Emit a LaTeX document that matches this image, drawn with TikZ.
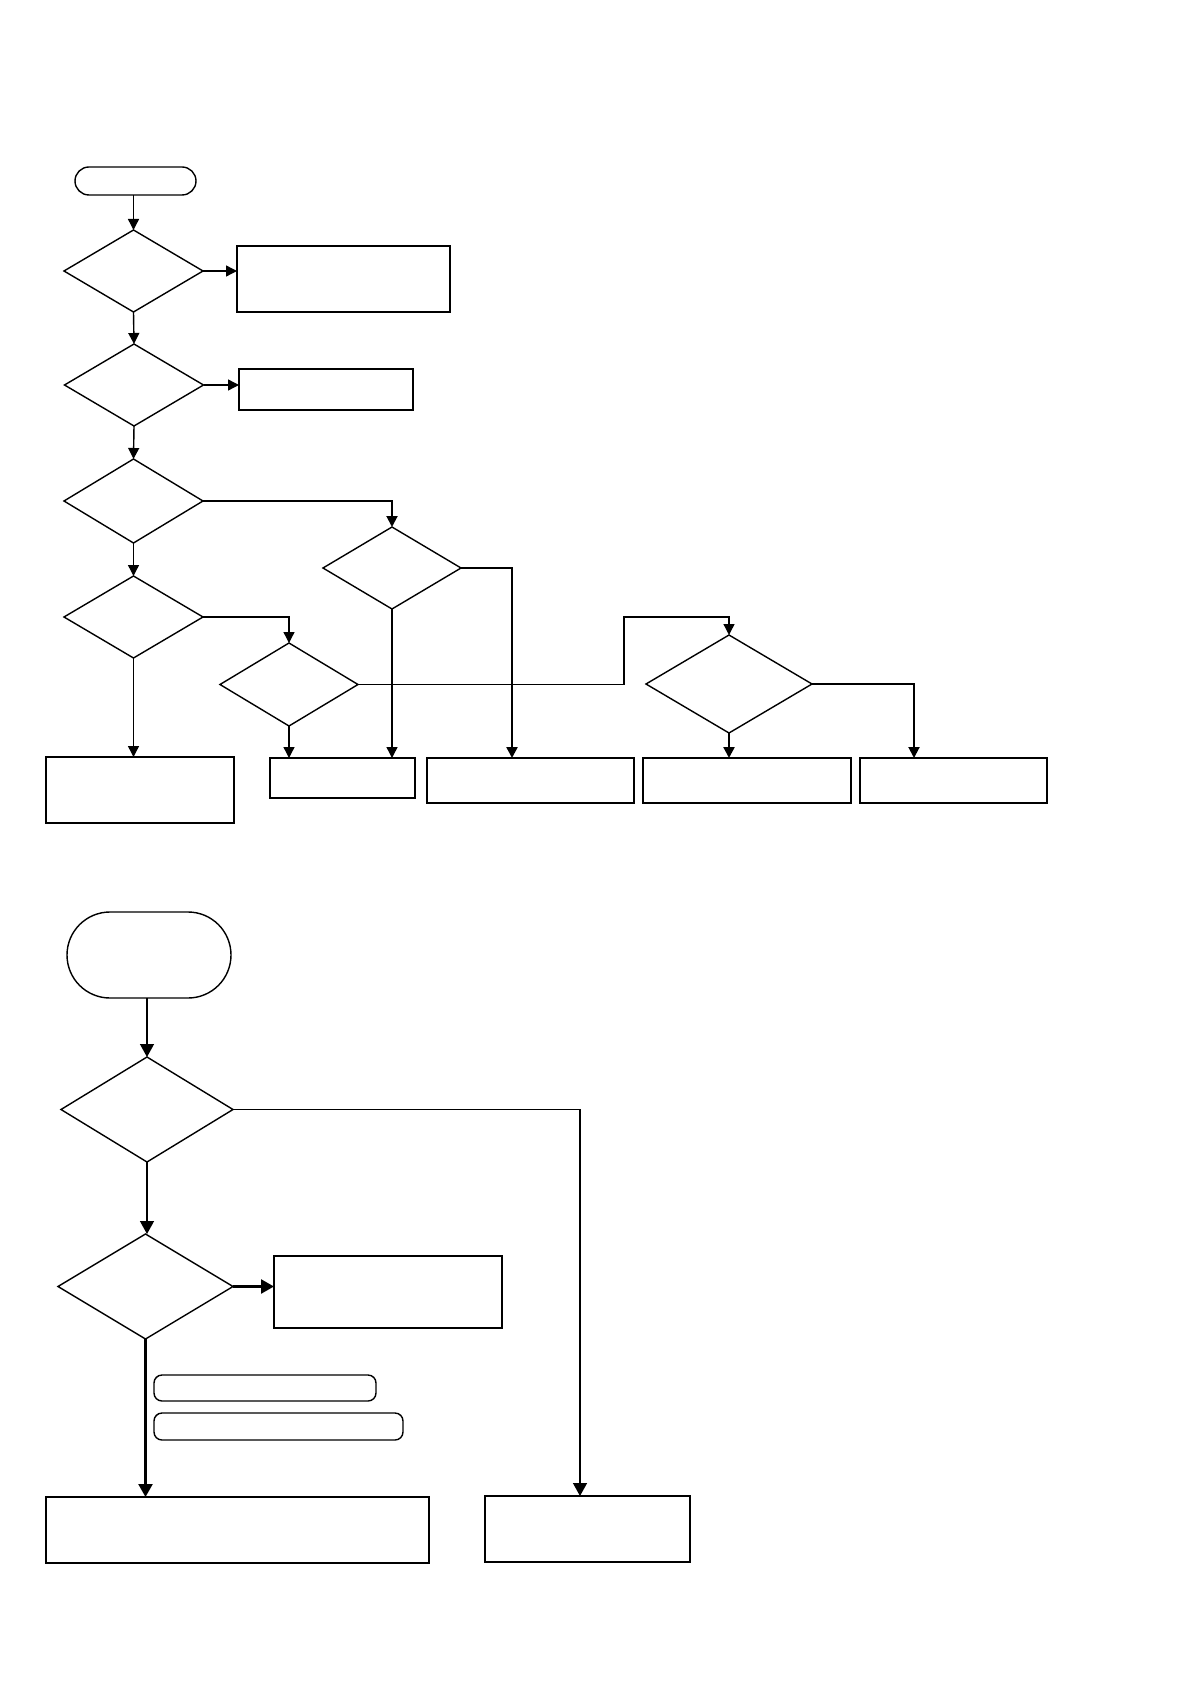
\documentclass[tikz,border=0pt]{standalone}
\usepackage{xcolor}
\usepackage{tikz}
\usetikzlibrary{positioning, calc, arrows.meta, shapes.geometric}

\begin{document}
\begin{tikzpicture}[
    x=0.5pt, y=-0.5pt,
    dec/.style={draw, diamond, inner sep=0pt, outer sep=0pt, line width=0.7pt},
    blk/.style={draw, rectangle, inner sep=0pt, outer sep=0pt, line width=0.65pt},
    tblk/.style={blk, line width=1.1pt},
    term/.style={draw, rectangle, rounded corners=7pt, inner sep=0pt, outer sep=0pt, line width=0.7pt},
    arr/.style={-{Triangle[length=5.5pt, width=5.5pt]}, line width=0.7pt},
    tarr/.style={-{Triangle[length=5.5pt, width=5.5pt]}, line width=1.2pt},
    barr/.style={-{Triangle[length=6.5pt, width=7pt]}, line width=0.7pt},
    btarr/.style={-{Triangle[length=6.5pt, width=7pt]}, line width=1.2pt},
]
\useasboundingbox (0,0) rectangle (1190,1684);

% upper chart
\node[term, minimum width=60.5pt, minimum height=14pt] (t1) at (135.5,181) {};
\node[dec, minimum width=69.5pt, minimum height=41pt] (d1) at (133.5,271) {};
\node[blk, minimum width=106.5pt, minimum height=33pt] (b1) at (343.5,279) {};
\node[dec, minimum width=69.5pt, minimum height=41pt] (d2) at (134,385) {};
\node[blk, minimum width=87pt, minimum height=20.5pt] (b2) at (326,389.5) {};
\node[dec, minimum width=69.5pt, minimum height=42pt] (d3) at (133.5,501) {};
\node[dec, minimum width=69pt, minimum height=41pt] (d4) at (392,568) {};
\node[dec, minimum width=69.5pt, minimum height=41pt] (d5) at (133.5,617) {};
\node[dec, minimum width=69pt, minimum height=41.5pt] (d6) at (289,684.5) {};
\node[dec, minimum width=83pt, minimum height=49pt] (d7) at (729,684) {};

\node[blk, minimum width=94pt, minimum height=33pt] (b3) at (140,790) {};
\node[tblk, minimum width=72.5pt, minimum height=20pt] (b4) at (342.5,778) {};
\node[blk, minimum width=103.5pt, minimum height=22.5pt] (b5) at (530.5,780.5) {};
\node[blk, minimum width=104pt, minimum height=22.5pt] (b6) at (747,780.5) {};
\node[blk, minimum width=93.5pt, minimum height=22.5pt] (b7) at (953.5,780.5) {};
\coordinate (jog) at (624,617);

\draw[arr] (t1.south -| d1.north) -- (d1.north);
\draw[arr] (d1.east) -- (d1.east -| b1.west);
\draw[arr] (d1.south) -- (d2.north);
\draw[arr] (d2.east) -- (d2.east -| b2.west);
\draw[arr] (d2.south) -- (d3.north);
\draw[arr] (d3.south) -- (d5.north);
\draw[arr, line width=1pt] (d3.east) -| (d4.north);
\draw[tarr] (d4.east) -| ([xshift=-9.25pt]b5.north);
\draw[arr] (d4.south) -- (d4.south |- b4.north);
\draw[arr] (d5.east) -| (d6.north);
\draw[arr] (d5.south) -- (d5.south |- b3.north);
\draw[arr] (d6.south) -- (d6.south |- b4.north);
\draw[arr] (d6.east) -| (jog) -| (d7.north);
\draw[tarr] (d7.south) -- (d7.south |- b6.north);
\draw[arr, line width=1pt] (d7.east) -| ([xshift=-19.75pt]b7.north);

% lower chart
\node[term, rounded corners=21.5pt, minimum width=82pt, minimum height=43pt] (t2) at (149,955) {};
\node[dec, minimum width=86pt, minimum height=52.5pt] (d8) at (147,1109.5) {};
\node[dec, minimum width=87.5pt, minimum height=52.5pt] (d9) at (145.5,1286.5) {};
\node[blk, minimum width=114pt, minimum height=36pt] (b8) at (388,1292) {};
\node[term, rounded corners=4pt, minimum width=111pt, minimum height=13pt] (r1) at (265,1388) {};
\node[term, rounded corners=4pt, minimum width=124.5pt, minimum height=13.5pt] (r2) at (278.5,1426.5) {};
\node[blk, minimum width=191.5pt, minimum height=33pt] (b9) at (237.5,1530) {};
\node[blk, minimum width=102.5pt, minimum height=33pt] (b10) at (587.5,1529) {};

\draw[barr] (t2.south -| d8.north) -- (d8.north);
\draw[barr] (d8.south) -- (d8.south |- d9.north);
\draw[btarr] (d9.east) -- (d9.east -| b8.west);
\draw[btarr] (d9.south) -- (d9.south |- b9.north);
\draw[barr] (d8.east) -| ([xshift=-3.75pt]b10.north);
\end{tikzpicture}
\end{document}
